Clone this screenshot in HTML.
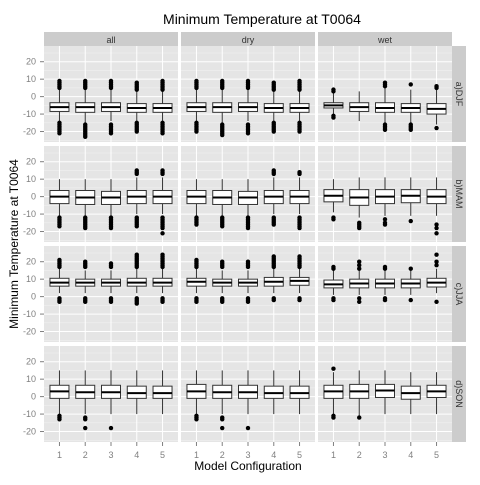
<!DOCTYPE html>
<html><head><meta charset="utf-8"><style>
body{margin:0;background:#fff;}
svg{font-family:"Liberation Sans",sans-serif;}
</style></head><body>
<svg id="c" width="480" height="480" xmlns="http://www.w3.org/2000/svg"></svg>
<script>
const cols=["all","dry","wet"];
const rows=["a)DJF","b)MAM","c)JJA","d)SON"];
const configs=[1,2,3,4,5];
const yTicks=[-20,-10,0,10,20];
// box stats per row, per column, per config: [lowerWhisker,q1,median,q3,upperWhisker]
const boxDJF=[
 [[-14,-8.5,-6,-3.5,4],[-15,-9,-6,-3.5,4],[-14,-8.5,-6,-3.5,4],[-14,-9,-6.5,-4,3],[-14,-9,-6.5,-4,3]],
 [[-14,-8.5,-6,-3.5,4],[-15,-9,-6,-3.5,4],[-14,-8.5,-6,-3.5,4],[-14,-9,-6.5,-4,3],[-14,-9,-6.5,-4,3]],
 [[-10,-6.5,-5,-3.5,2],[-14,-8.5,-6,-3.5,3],[-15,-9,-6.5,-3.5,5],[-15,-9,-6.5,-4,4],[-16,-10,-7,-4,4]]];
const boxMAM=[
 [[-11,-4,0,3.5,10],[-11,-4.5,-0.5,3.5,10],[-11,-4.5,-0.5,3,10],[-10,-4,0,3.5,11],[-10,-4,0,3.5,11]],
 [[-11,-4,0,3.5,10],[-11,-4.5,-0.5,3.5,10],[-11,-4.5,-0.5,3,10],[-10,-4,0,3.5,11],[-10,-4,0,3.5,11]],
 [[-9,-3,0.5,4,10],[-12,-5,-0.5,4,11],[-11,-4,0,4,11],[-11,-3.5,0.5,4,11],[-11,-4,0,4,11]]];
const boxJJA=[
 [[2,6,8,10.5,16],[2,6,8,10,15],[2,6,8,10,15],[2,6,8,10.5,16],[2,6,8,10.5,16]],
 [[2,6,8.5,10.5,16],[2,6,8,10,15],[2,6,8,10,15],[2,6,8.5,11,16],[2,6.5,9,11,16]],
 [[1,5,7,9.5,15],[1,5,7.5,10,15],[1,5,7.5,10,15],[1,5,7.5,10,15],[2,5.5,8,10.5,16]]];
const boxSON=[
 [[-10,-1,3,6.5,15],[-10,-1,2.5,6.5,15],[-10,-1,2.5,6.5,15],[-10,-1,2,6,15],[-10,-1,2,6,15]],
 [[-10,-1,3,7,15],[-10,-1,2.5,6.5,15],[-10,-1,2.5,6.5,15],[-10,-1,2,6,15],[-10,-1,2,6,15]],
 [[-10,-1,3,6.5,14],[-11,-1,3,7,15],[-10,-0.5,3.5,7,15],[-10,-1.5,2,6,14],[-10,-0.5,3,6.5,14]]];
const boxes=[boxDJF,boxMAM,boxJJA,boxSON];
// outliers per row, per column, per config
const outDJF=[
 [[5,6,7,8,9,-15,-16,-17,-18,-19,-20,-21],[5,6,7,8,9,-16,-17,-18,-19,-20,-21,-22,-23],[5,6,7,8,9,-16,-17,-18,-19,-20,-21],[4,5,6,7,8,-15,-16,-17,-18,-19,-20],[4,5,6,7,8,9,-15,-16,-17,-18,-19,-20,-21]],
 [[5,6,7,8,9,-15,-16,-17,-18,-19,-20],[5,6,7,8,9,-16,-17,-18,-19,-20,-21,-22],[5,6,7,8,9,-16,-17,-18,-19,-20,-21],[4,5,6,7,8,-15,-16,-17,-18,-19,-20],[4,5,6,7,8,9,-15,-16,-17,-18,-19,-20]],
 [[3,4,-11,-12],[],[6,7,8,-16,-17,-18,-19],[7,-16,-17,-18,-19],[5,6,-18]]];
const outMAM=[
 [[-12,-13,-14,-15,-16,-17],[-12,-13,-14,-15,-16,-17,-18],[-12,-13,-14,-15,-16,-17,-18],[13,14,15,-12,-13,-14,-15,-16,-17],[13,14,15,-12,-13,-14,-15,-16,-17,-18,-21]],
 [[-12,-13,-14,-15,-16],[-12,-13,-14,-15,-16,-17],[-12,-13,-14,-15,-16,-17,-18],[13,14,15,-12,-13,-14,-15,-16],[13,14,-12,-13,-14,-15,-16,-17,-18]],
 [[-12,-13],[-15,-16,-17,-18],[-13,-15,-16],[-14],[-16,-18,-21]]];
const outJJA=[
 [[17,18,19,20,21,-1,-2,-3],[17,18,19,20,-1,-2,-3],[17,18,19,-1,-2,-3],[17,18,19,20,21,22,23,24,-1,-2,-3,-4],[17,18,19,20,21,22,23,24,-1,-2,-3]],
 [[17,18,19,20,21,-1,-2,-3],[17,18,19,20,-1,-2,-3],[17,18,19,20,-1,-2,-3],[17,18,19,20,21,22,23,-1,-2],[17,18,19,20,21,22,23,-1,-2]],
 [[16,17,-1,-2],[16,18,20,-1,-3],[16,17,-1,-2],[16,-2],[18,20,24,-3]]];
const outSON=[
 [[-11,-12,-13],[-12,-13,-18],[-18],[],[]],
 [[-11,-12,-13],[-12,-13,-18],[-18],[],[]],
 [[16,-11,-12],[-12],[],[],[]]];
const outs=[outDJF,outMAM,outJJA,outSON];

const svg=document.getElementById('c');
const NS='http://www.w3.org/2000/svg';
function mk(t,a,p){const e=document.createElementNS(NS,t);for(const k in a)e.setAttribute(k,a[k]);(p||svg).appendChild(e);return e;}
const colX=[44,181,318], colW=134;
const rowY=[46,146,246,346], rowH=96;
const yMin=-26, yMax=29;
function xs(c,v){return colX[c]+(v-0.4)/5.2*colW;}
function ys(r,v){return rowY[r]+(yMax-v)/(yMax-yMin)*rowH;}

let t=mk('text',{x:262,y:24,'text-anchor':'middle','font-size':14,fill:'#000'});


t.textContent='Minimum Temperature at T0064';
t=mk('text',{x:0,y:0,'text-anchor':'middle','font-size':12,fill:'#000',transform:'translate(18,244) rotate(-90)'});


t.textContent='Minimum Temperature at T0064';
t=mk('text',{x:248,y:470,'text-anchor':'middle','font-size':12,fill:'#000'});


t.textContent='Model Configuration';

cols.forEach((cn,c)=>{
  const g=mk('g',{});
  
  
  mk('rect',{x:colX[c],y:32,width:colW,height:14,fill:'#CCCCCC'},g);
  const tx=mk('text',{x:colX[c]+colW/2,y:43,'text-anchor':'middle','font-size':9,fill:'#333'},g);
  tx.textContent=cn;
  configs.forEach(v=>{
    const tl=mk('text',{x:xs(c,v),y:458,'text-anchor':'middle','font-size':9,fill:'#7F7F7F'});
    
    
    tl.textContent=v;
    mk('line',{x1:xs(c,v),x2:xs(c,v),y1:442,y2:446,stroke:'#7F7F7F'});
  });
});
rows.forEach((rn,r)=>{
  const g=mk('g',{});
  
  
  mk('rect',{x:452,y:rowY[r],width:14,height:rowH,fill:'#CCCCCC'},g);
  const tx=mk('text',{x:0,y:0,'text-anchor':'middle','font-size':9,fill:'#333',transform:`translate(456,${rowY[r]+rowH/2}) rotate(90)`},g);
  tx.textContent=rn;
  yTicks.forEach(v=>{
    const tl=mk('text',{x:36,y:ys(r,v)+3,'text-anchor':'end','font-size':9,fill:'#7F7F7F'});
    
    
    tl.textContent=v;
    mk('line',{x1:40,x2:44,y1:ys(r,v),y2:ys(r,v),stroke:'#7F7F7F'});
  });
  cols.forEach((cn,c)=>{
    const p=mk('g',{});
    
    
    mk('rect',{x:colX[c],y:rowY[r],width:colW,height:rowH,fill:'#E5E5E5'},p);
    yTicks.forEach(v=>{mk('line',{x1:colX[c],x2:colX[c]+colW,y1:ys(r,v+5),y2:ys(r,v+5),stroke:'#F2F2F2','stroke-width':0.5},p);});
    mk('line',{x1:colX[c],x2:colX[c]+colW,y1:ys(r,-25),y2:ys(r,-25),stroke:'#F2F2F2','stroke-width':0.5},p);
    yTicks.forEach(v=>{mk('line',{x1:colX[c],x2:colX[c]+colW,y1:ys(r,v),y2:ys(r,v),stroke:'#fff','stroke-width':1},p);});
    configs.forEach(v=>{mk('line',{x1:xs(c,v),x2:xs(c,v),y1:rowY[r],y2:rowY[r]+rowH,stroke:'#fff','stroke-width':1},p);});
    configs.forEach((v,i)=>{
      const b=boxes[r][c][i], x=xs(c,v), w=19;
      const bg=mk('g',{},p);
      
      
      mk('line',{x1:x,x2:x,y1:ys(r,b[0]),y2:ys(r,b[4]),stroke:'#333','stroke-width':1},bg);
      mk('rect',{x:x-w/2,y:ys(r,b[3]),width:w,height:ys(r,b[1])-ys(r,b[3]),fill:'#fff',stroke:'#333','stroke-width':1},bg);
      mk('line',{x1:x-w/2,x2:x+w/2,y1:ys(r,b[2]),y2:ys(r,b[2]),stroke:'#000','stroke-width':2},bg);
      outs[r][c][i].forEach(o=>{mk('circle',{cx:x,cy:ys(r,o),r:2.2,fill:'#000'},bg);});
    });
  });
});
</script>
</body></html>
